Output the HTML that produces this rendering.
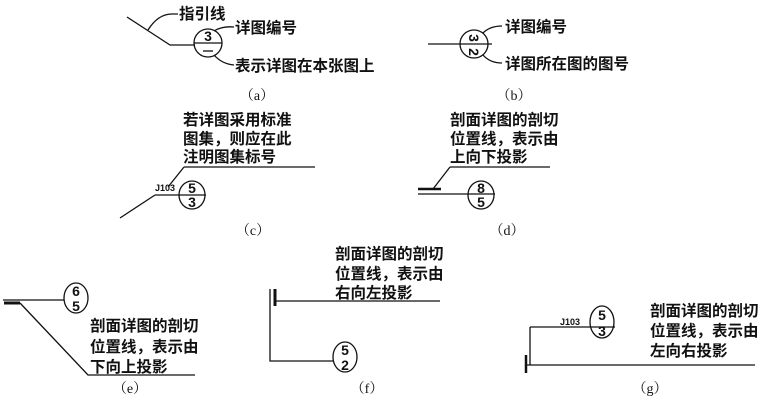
<!DOCTYPE html>
<html><head><meta charset="utf-8"><style>
html,body{margin:0;padding:0;background:#fff;width:766px;height:400px;overflow:hidden}
svg{display:block}
.t{font-family:"Liberation Sans","Noto Sans CJK SC",sans-serif;font-size:15.5px;font-weight:bold;fill:#111}
.l{font-family:"Liberation Serif","Noto Serif CJK SC",serif;font-size:14px;fill:#111}
.n{font-family:"Liberation Sans",sans-serif;font-size:14px;font-weight:bold;fill:#111}
.j{font-family:"Liberation Sans",sans-serif;font-size:9px;font-weight:bold;fill:#111}
</style></head><body>
<svg width="766" height="400" viewBox="0 0 766 400" xmlns="http://www.w3.org/2000/svg" stroke="#111" fill="none" stroke-width="1.3">
<!-- (a) -->
<path d="M127 17 L170 45 L195 45"/>
<path d="M148 30 Q158 14 172 14 L178 14"/>
<circle cx="208" cy="43" r="14"/>
<path d="M194 43 H222"/>
<text class="n" x="208" y="41" text-anchor="middle" stroke="none">3</text>
<path d="M203 51 H213"/>
<path d="M214 31 Q222 26 234 27"/>
<path d="M214 55 Q222 64 234 65"/>
<text class="t" x="179" y="19" stroke="none">指引线</text>
<text class="t" x="235" y="33" stroke="none">详图编号</text>
<text class="t" x="235" y="71" stroke="none">表示详图在本张图上</text>
<text class="l" x="257" y="100" text-anchor="middle" stroke="none">（a）</text>
<!-- (b) -->
<path d="M428 44 H492"/>
<circle cx="474" cy="44" r="14"/>
<text class="n" x="473" y="42" text-anchor="middle" stroke="none" transform="rotate(90 473 38)">3</text>
<text class="n" x="475" y="58" text-anchor="middle" stroke="none" transform="rotate(90 475 52)">2</text>
<path d="M483 33 Q490 26 502 26"/>
<path d="M483 55 Q490 63 502 63"/>
<text class="t" x="505" y="32" stroke="none">详图编号</text>
<text class="t" x="505" y="69" stroke="none">详图所在图的图号</text>
<text class="l" x="514" y="100" text-anchor="middle" stroke="none">（b）</text>
<!-- (c) -->
<text class="t" x="183" y="125" stroke="none">若详图采用标准</text>
<text class="t" x="183" y="144" stroke="none">图集，则应在此</text>
<text class="t" x="183" y="162" stroke="none">注明图集标号</text>
<path d="M184 167 H315"/>
<path d="M184 167 L168 187"/>
<path d="M155 195 H206"/>
<path d="M155 195 L120 218"/>
<ellipse cx="192" cy="195" rx="13" ry="14"/>
<text class="n" x="192" y="193" text-anchor="middle" stroke="none">5</text>
<text class="n" x="192" y="207" text-anchor="middle" stroke="none">3</text>
<text class="j" x="155" y="191" stroke="none">J103</text>
<text class="l" x="253" y="235" text-anchor="middle" stroke="none">（c）</text>
<!-- (d) -->
<text class="t" x="450" y="125" stroke="none">剖面详图的剖切</text>
<text class="t" x="450" y="144" stroke="none">位置线，表示由</text>
<text class="t" x="450" y="162" stroke="none">上向下投影</text>
<path d="M450 167 H550"/>
<path d="M450 167 L433 189"/>
<path d="M418 189 H441" stroke-width="2.5"/>
<path d="M418 194 H495"/>
<ellipse cx="481" cy="195" rx="13" ry="14"/>
<text class="n" x="481" y="193" text-anchor="middle" stroke="none">8</text>
<text class="n" x="481" y="207" text-anchor="middle" stroke="none">5</text>
<text class="l" x="507" y="235" text-anchor="middle" stroke="none">（d）</text>
<!-- (e) -->
<path d="M3 300 H64"/>
<path d="M4 303 H20" stroke-width="3"/>
<ellipse cx="76" cy="298" rx="12" ry="15"/>
<text class="n" x="76" y="296" text-anchor="middle" stroke="none">6</text>
<text class="n" x="76" y="311" text-anchor="middle" stroke="none">5</text>
<path d="M20 303 L88 375 H195"/>
<text class="t" x="90" y="331" stroke="none">剖面详图的剖切</text>
<text class="t" x="90" y="352" stroke="none">位置线，表示由</text>
<text class="t" x="90" y="372" stroke="none">下向上投影</text>
<text class="l" x="130" y="393" text-anchor="middle" stroke="none">（e）</text>
<!-- (f) -->
<path d="M275 289 V306" stroke-width="3"/>
<path d="M275 301 H440"/>
<path d="M270 289 V361 H333"/>
<ellipse cx="345" cy="357" rx="12" ry="15"/>
<text class="n" x="345" y="355" text-anchor="middle" stroke="none">5</text>
<text class="n" x="345" y="370" text-anchor="middle" stroke="none">2</text>
<text class="t" x="335" y="259" stroke="none">剖面详图的剖切</text>
<text class="t" x="335" y="279" stroke="none">位置线，表示由</text>
<text class="t" x="335" y="298" stroke="none">右向左投影</text>
<text class="l" x="367" y="393" text-anchor="middle" stroke="none">（f）</text>
<!-- (g) -->
<text class="j" x="560" y="325" stroke="none">J103</text>
<ellipse cx="602" cy="322" rx="12" ry="16"/>
<text class="n" x="602" y="320" text-anchor="middle" stroke="none">5</text>
<text class="n" x="602" y="336" text-anchor="middle" stroke="none">3</text>
<path d="M530 327 H615"/>
<path d="M530 327 V365"/>
<path d="M526 355 V373" stroke-width="2.5"/>
<path d="M526 365 H755"/>
<text class="t" x="650" y="316" stroke="none">剖面详图的剖切</text>
<text class="t" x="650" y="336" stroke="none">位置线，表示由</text>
<text class="t" x="650" y="356" stroke="none">左向右投影</text>
<text class="l" x="650" y="393" text-anchor="middle" stroke="none">（g）</text>
</svg>
</body></html>
